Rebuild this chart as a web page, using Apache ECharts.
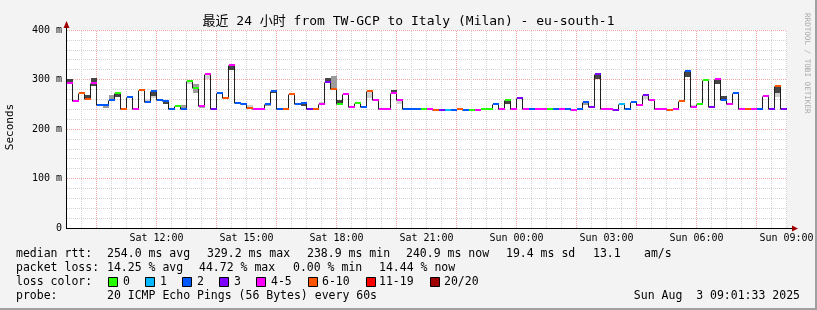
<!DOCTYPE html>
<html><head><meta charset="utf-8">
<script src="https://cdn.jsdelivr.net/npm/echarts@6/dist/echarts.min.js"></script>
<style>html,body{margin:0;padding:0;background:#f3f3f3}#c{width:817px;height:310px}</style>
</head><body><div id="c"></div>
<script>
// ---- time axis (minutes since Sat 00:00) ----
const START_MIN = 541;      // Sat 09:01
const END_MIN = 1981;       // Sun 09:01
const FIRST_SLOT = 540;     // first 12-minute consolidation slot starts Sat 09:00
const SLOT_MIN = 12;

// ---- median RTT per 12-minute slot (ms) ----
const medianMs = [
 292,256,272,260,292,249,249,259,272,241,
 265,241,279,254,276,259,257,241,247,241,
 297,282,247,312,241,272,263,330,252,250,
 242,241,241,251,277,241,241,270,250,252,
 241,241,250,295,281,250,270,244,252,244,
 276,258,241,241,272,258,241,241,241,241,
 241,239,239,239,239,241,239,239,239,241,
 241,250,241,259,241,262,241,241,241,241,
 241,241,241,241,239,241,254,244,312,241,
 241,239,250,241,254,248,268,258,241,241,
 239,241,256,318,244,250,298,244,302,258,
 250,272,241,241,241,241,266,241,286,241
];
// ---- lost pings (of 20) per slot ----
const lossCount = [
 5,5,7,7,5,2,2,2,0,7,
 2,5,7,2,2,2,2,2,0,2,
 0,0,5,5,3,2,7,5,2,2,
 7,5,5,2,2,2,7,7,2,2,
 3,7,5,3,7,0,5,5,0,2,
 7,5,5,5,5,5,2,2,2,0,
 5,7,3,1,2,7,2,0,5,0,
 0,2,5,0,5,3,5,2,5,5,
 0,2,5,2,5,2,2,3,3,5,
 5,3,1,2,2,5,3,5,5,5,
 7,5,7,2,5,0,0,3,5,2,
 5,2,5,7,5,2,5,3,7,3
];
// ---- smoke (ping spread) [slot, low ms, high ms] ----
const smokeLight = [[13,254,260],[14,262,266],[20,290,297],[23,302,312],[30,242,248],[42,250,255],[50,262,276],[55,250,258],[96,260,268],[104,244,249],[118,264,272]];
const smokeMid = [[6,243,249],[7,259,268],[19,241,248],[21,272,291],[22,242,247],[33,246,251],[44,281,307],[86,248,254]];
const smokeDark = [[0,292,302],[3,260,268],[4,286,304],[8,265,272],[14,266,276],[16,250,257],[27,320,330],[34,272,277],[39,246,252],[43,295,303],[45,250,258],[54,272,279],[73,251,259],[88,302,312],[103,305,318],[108,291,302],[109,258,266],[118,272,286]];

// ---- ticks ----
const xTickMinutes = [720,900,1080,1260,1440,1620,1800,1980];
const xTickLabels = ['Sat 12:00','Sat 15:00','Sat 18:00','Sat 21:00','Sun 00:00','Sun 03:00','Sun 06:00','Sun 09:00'];
const yTickValues = [0,100,200,300,400];
const yTickLabels = ['0','100 m','200 m','300 m','400 m'];

// ---- legend ----
const lossLegendLabels = ['0','1','2','3','4-5','6-10','11-19','20/20'];
const lossLegendColors = ['#26ff00','#00b8ff','#0059ff','#7e00ff','#ff00ff','#ff5500','#ff0000','#a10000'];
const statsRtt = ['254.0 ms avg','329.2 ms max','238.9 ms min','240.9 ms now','19.4 ms sd','13.1','am/s'];
const statsLoss = ['14.25 % avg','44.72 % max','0.00 % min','14.44 % now'];
const titleText = '最近 24 小时 from TW-GCP to Italy (Milan) - eu-south-1';
const probeText = '20 ICMP Echo Pings (56 Bytes) every 60s';
const dateText = 'Sun Aug  3 09:01:33 2025';

function lossColor(n){
  if(n<=0) return lossLegendColors[0];
  if(n===1) return lossLegendColors[1];
  if(n===2) return lossLegendColors[2];
  if(n===3) return lossLegendColors[3];
  if(n<=5) return lossLegendColors[4];
  if(n<=10) return lossLegendColors[5];
  if(n<=19) return lossLegendColors[6];
  return lossLegendColors[7];
}
const slotStart = k => FIRST_SLOT + SLOT_MIN*k;
const slotData = medianMs.map((m,k)=>[slotStart(k), slotStart(k+1), m, lossCount[k]]);
const smokeData = list => list.map(s=>[slotStart(s[0]), slotStart(s[0]+1), s[1], s[2]]);

// vertical grid positions (every 30 min, red every 2 h)
const gridMinor=[], gridMajor=[];
for(let t=570;t<=END_MIN;t+=30){ if(t%120===0) gridMajor.push([t]); else gridMinor.push([t]); }

const MONO = "'DejaVu Sans Mono'";
const MINOR_GRID = '#d4d4d4', MAJOR_GRID = '#f2a6a6';
const chart = echarts.init(document.getElementById('c'), null, {renderer:'canvas'});

function vgrid(color){
  return function(params, api){
    const t = api.value(0);
    const a = api.coord([t,0]), b = api.coord([t,400]);
    const x = Math.floor(a[0])+0.5;
    return {type:'line', shape:{x1:x,y1:a[1],x2:x,y2:b[1]}, style:{stroke:color,lineWidth:1,lineDash:[1,1]}};
  };
}
function smokeItem(color){
  return function(params, api){
    const p0 = api.coord([api.value(0), api.value(3)]);
    const p1 = api.coord([api.value(1), api.value(2)]);
    const x0 = Math.round(p0[0]), x1 = Math.round(p1[0]);
    const y0 = Math.round(p0[1]), y1 = Math.round(p1[1]);
    return {type:'rect', shape:{x:x0,y:y0,width:x1-x0,height:Math.max(1,y1-y0)}, style:{fill:color}};
  };
}
function lineItem(params, api){
  const k = params.dataIndex;
  const p0 = api.coord([api.value(0), api.value(2)]);
  const p1 = api.coord([api.value(1), api.value(2)]);
  const x0 = Math.round(p0[0]), x1 = Math.round(p1[0]);
  const y = Math.round(p0[1]);
  const pts = [[x0, y+0.5],[x1-0.5, y+0.5]];
  if(k+1 < medianMs.length){
    const yn = Math.round(api.coord([api.value(1), medianMs[k+1]])[1]);
    pts.push([x1-0.5, yn+0.5]);
  }
  return {type:'polyline', shape:{points:pts}, style:{stroke:'#202020',lineWidth:1,fill:null}};
}
function bandItem(params, api){
  const p0 = api.coord([api.value(0), api.value(2)]);
  const p1 = api.coord([api.value(1), api.value(2)]);
  const x0 = Math.round(p0[0]), x1 = Math.round(p1[0]);
  const y = Math.round(p0[1]);
  return {type:'rect', shape:{x:x0,y:y-1,width:x1-x0,height:2}, style:{fill:lossColor(api.value(3))}};
}

const graphics = [];
function txt(x,y,text,opts){
  opts = opts||{};
  graphics.push({type:'text', x:x, y:y, rotation:opts.rotation||0, silent:true, z:100,
    style:{text:text, font:(opts.font||("11.5px "+MONO)), fill:opts.fill||'#000',
      align:opts.align||'left', verticalAlign:'middle', textAlign:opts.align||'left', textVerticalAlign:'middle'}});
}
txt(408.5, 22, titleText, {align:'center', font:"13px 'DejaVu Sans Mono','Noto Sans CJK SC'"});
txt(10, 127, 'Seconds', {align:'center', rotation:Math.PI/2, font:"11px "+MONO});
txt(807, 13, 'RRDTOOL / TOBI OETIKER', {rotation:-Math.PI/2, font:"7.6px "+MONO, fill:'#aaaaaa'});
// legend rows
txt(16, 254.5, 'median rtt:');
const rttX = [107,207,307,406,506,593,644];
statsRtt.forEach((s,i)=>txt(rttX[i],254.5,s));
txt(16, 268.5, 'packet loss:');
const lossX = [107,199,293,379];
statsLoss.forEach((s,i)=>txt(lossX[i],268.5,s));
txt(16, 282.5, 'loss color:');
const boxX = [108,145,182,219,256,308,366,430];
const labX = [123,160,197,234,271,322,379,444];
lossLegendLabels.forEach((s,i)=>{
  graphics.push({type:'rect', silent:true, z:100, shape:{x:boxX[i]+0.5,y:277.5,width:9,height:9}, style:{fill:lossLegendColors[i],stroke:'#000',lineWidth:1}});
  txt(labX[i],282.5,s);
});
txt(16, 296.5, 'probe:');
txt(107, 296.5, probeText);
txt(800, 296.5, dateText, {align:'right'});
// axes lines + arrows
graphics.push({type:'line', silent:true, z:90, shape:{x1:66.5,y1:228,x2:66.5,y2:26}, style:{stroke:'#000',lineWidth:1}});
graphics.push({type:'line', silent:true, z:90, shape:{x1:66,y1:228.5,x2:793,y2:228.5}, style:{stroke:'#000',lineWidth:1}});
graphics.push({type:'polygon', silent:true, z:91, shape:{points:[[63.5,28],[69.5,28],[66.5,21]]}, style:{fill:'#a00000'}});
graphics.push({type:'polygon', silent:true, z:91, shape:{points:[[792,225.5],[792,231.5],[798,228.5]]}, style:{fill:'#a00000'}});
// border shade
graphics.push({type:'rect', silent:true, z:100, shape:{x:815,y:0,width:2,height:310}, style:{fill:'#a0a0a0'}});
graphics.push({type:'rect', silent:true, z:100, shape:{x:0,y:308,width:817,height:2}, style:{fill:'#a0a0a0'}});

const option = {
  animation:false,
  backgroundColor:'#f3f3f3',
  grid:{left:67, right:30, top:30, bottom:82, show:true, backgroundColor:'#ffffff', borderWidth:0},
  xAxis:{type:'value', min:START_MIN, max:END_MIN,
    axisLine:{show:false}, axisTick:{show:false}, splitLine:{show:false},
    axisLabel:{customValues:xTickMinutes, margin:5, fontFamily:'DejaVu Sans Mono', fontSize:10, color:'#000',
      formatter:v=>{const i=xTickMinutes.indexOf(v); return i>=0?xTickLabels[i]:'';}}},
  yAxis:{type:'value', min:0, max:400, interval:100,
    axisLine:{show:false}, axisTick:{show:false},
    axisLabel:{margin:5, fontFamily:'DejaVu Sans Mono', fontSize:10, color:'#000',
      formatter:v=>{const i=yTickValues.indexOf(v); return i>=0?yTickLabels[i]:'';}},
    splitLine:{show:true, lineStyle:{color:MAJOR_GRID, width:1, type:[1,1]}},
    minorTick:{show:false, splitNumber:5},
    minorSplitLine:{show:true, lineStyle:{color:MINOR_GRID, width:1, type:[1,1]}}},
  graphic:graphics,
  series:[
    {type:'custom', z:1, silent:true, renderItem:vgrid(MINOR_GRID), data:gridMinor, clip:true},
    {type:'custom', z:1, silent:true, renderItem:vgrid(MAJOR_GRID), data:gridMajor, clip:true},
    {type:'custom', z:2, silent:true, renderItem:smokeItem('#d2d2d2'), data:smokeData(smokeLight), clip:true},
    {type:'custom', z:3, silent:true, renderItem:smokeItem('#9c9c9c'), data:smokeData(smokeMid), clip:true},
    {type:'custom', z:4, silent:true, renderItem:smokeItem('#454545'), data:smokeData(smokeDark), clip:true},
    {type:'custom', z:5, silent:true, renderItem:lineItem, data:slotData, clip:true},
    {type:'custom', z:6, silent:true, renderItem:bandItem, data:slotData, clip:true}
  ]
};
chart.setOption(option);
</script></body></html>
